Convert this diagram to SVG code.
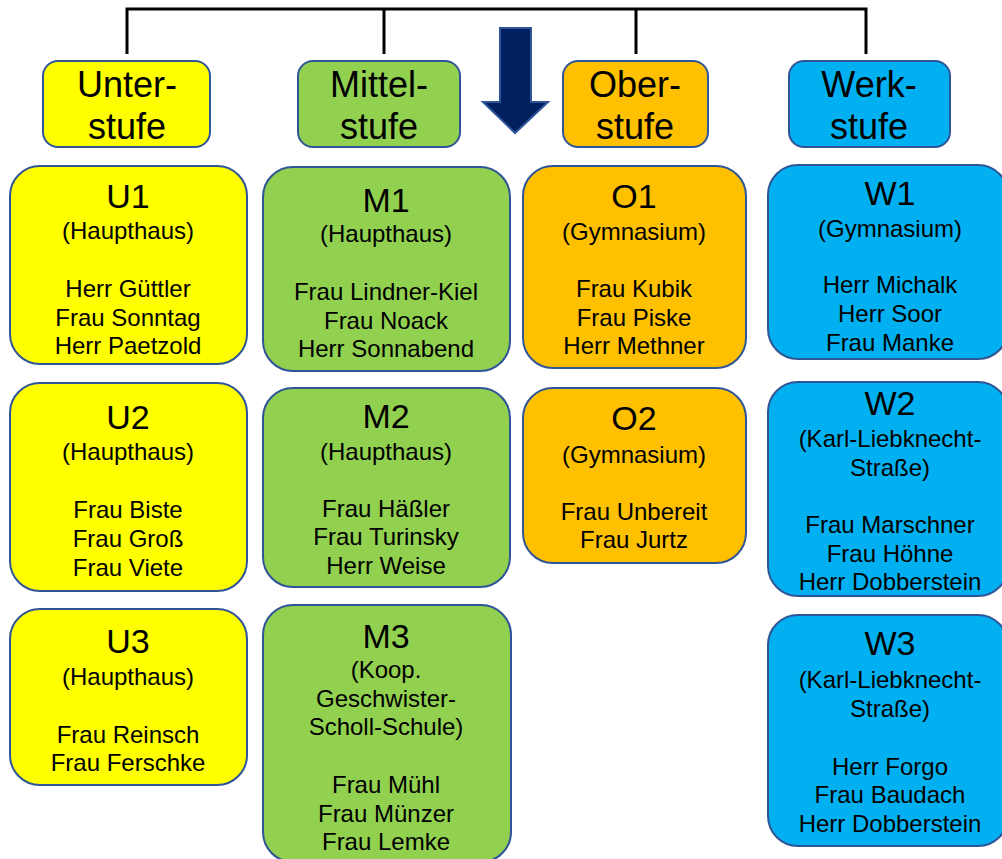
<svg xmlns="http://www.w3.org/2000/svg" width="1002" height="859" viewBox="0 0 1002 859">
<style>
text{font-family:"Liberation Sans",Arial,sans-serif;fill:#000;text-anchor:middle}
.box{stroke:#2F5597;stroke-width:2}
.u{fill:#FFFF00}.m{fill:#92D050}.o{fill:#FFC000}.w{fill:#00B0F0}
.h{font-size:36px}.t{font-size:34px}.s{font-size:24px}
.con{stroke:#000;stroke-width:3;fill:none}
</style>
<g id="connectors">
<path class="con" d="M127 54V9H866V54M384 9V54M636 9V54"/>
<path d="M500 28H531V102H548L515 133L483 102H500Z" fill="#002060" stroke="#2F5597" stroke-width="2"/>
</g>
<g id="hdr-unter"><rect class="box u" x="43" y="61" width="167" height="86" rx="15"/><text class="h" x="127" y="97">Unter-</text><text class="h" x="127" y="139">stufe</text></g>
<g id="hdr-mittel"><rect class="box m" x="298" y="61" width="162" height="86" rx="15"/><text class="h" x="379" y="97">Mittel-</text><text class="h" x="379" y="139">stufe</text></g>
<g id="hdr-ober"><rect class="box o" x="563" y="61" width="145" height="86" rx="15"/><text class="h" x="635" y="97">Ober-</text><text class="h" x="635" y="139">stufe</text></g>
<g id="hdr-werk"><rect class="box w" x="789" y="61" width="161" height="86" rx="15"/><text class="h" x="869" y="97">Werk-</text><text class="h" x="869" y="139">stufe</text></g>

<g id="U1"><rect class="box u" x="10" y="166" width="237" height="198" rx="30"/>
<text class="t" x="128" y="208">U1</text><text class="s" x="128" y="239">(Haupthaus)</text>
<text class="s" x="128" y="297">Herr Güttler</text><text class="s" x="128" y="326">Frau Sonntag</text><text class="s" x="128" y="354">Herr Paetzold</text></g>
<g id="U2"><rect class="box u" x="10" y="383" width="237" height="208" rx="30"/>
<text class="t" x="128" y="429">U2</text><text class="s" x="128" y="460">(Haupthaus)</text>
<text class="s" x="128" y="518">Frau Biste</text><text class="s" x="128" y="547">Frau Groß</text><text class="s" x="128" y="576">Frau Viete</text></g>
<g id="U3"><rect class="box u" x="10" y="609" width="237" height="176" rx="30"/>
<text class="t" x="128" y="653">U3</text><text class="s" x="128" y="685">(Haupthaus)</text>
<text class="s" x="128" y="743">Frau Reinsch</text><text class="s" x="128" y="771">Frau Ferschke</text></g>

<g id="M1"><rect class="box m" x="263" y="167" width="247" height="204" rx="30"/>
<text class="t" x="386" y="212">M1</text><text class="s" x="386" y="242">(Haupthaus)</text>
<text class="s" x="386" y="300">Frau Lindner-Kiel</text><text class="s" x="386" y="329">Frau Noack</text><text class="s" x="386" y="357">Herr Sonnabend</text></g>
<g id="M2"><rect class="box m" x="263" y="388" width="247" height="199" rx="30"/>
<text class="t" x="386" y="428">M2</text><text class="s" x="386" y="460">(Haupthaus)</text>
<text class="s" x="386" y="517">Frau Häßler</text><text class="s" x="386" y="545">Frau Turinsky</text><text class="s" x="386" y="574">Herr Weise</text></g>
<g id="M3"><rect class="box m" x="263" y="605" width="248" height="257" rx="30"/>
<text class="t" x="386" y="648">M3</text><text class="s" x="386" y="678">(Koop.</text><text class="s" x="386" y="707">Geschwister-</text><text class="s" x="386" y="735">Scholl-Schule)</text>
<text class="s" x="386" y="793">Frau Mühl</text><text class="s" x="386" y="822">Frau Münzer</text><text class="s" x="386" y="850">Frau Lemke</text></g>

<g id="O1"><rect class="box o" x="523" y="166" width="223" height="202" rx="30"/>
<text class="t" x="634" y="208">O1</text><text class="s" x="634" y="240">(Gymnasium)</text>
<text class="s" x="634" y="297">Frau Kubik</text><text class="s" x="634" y="326">Frau Piske</text><text class="s" x="634" y="354">Herr Methner</text></g>
<g id="O2"><rect class="box o" x="523" y="388" width="223" height="175" rx="30"/>
<text class="t" x="634" y="430">O2</text><text class="s" x="634" y="463">(Gymnasium)</text>
<text class="s" x="634" y="520">Frau Unbereit</text><text class="s" x="634" y="548">Frau Jurtz</text></g>

<g id="W1"><rect class="box w" x="768" y="165" width="240" height="194" rx="30"/>
<text class="t" x="890" y="205">W1</text><text class="s" x="890" y="237">(Gymnasium)</text>
<text class="s" x="890" y="293">Herr Michalk</text><text class="s" x="890" y="322">Herr Soor</text><text class="s" x="890" y="351">Frau Manke</text></g>
<g id="W2"><rect class="box w" x="768" y="382" width="240" height="214" rx="30"/>
<text class="t" x="890" y="415">W2</text><text class="s" x="890" y="447">(Karl-Liebknecht-</text><text class="s" x="890" y="476">Straße)</text>
<text class="s" x="890" y="533">Frau Marschner</text><text class="s" x="890" y="562">Frau Höhne</text><text class="s" x="890" y="590">Herr Dobberstein</text></g>
<g id="W3"><rect class="box w" x="768" y="615" width="240" height="231" rx="30"/>
<text class="t" x="890" y="655">W3</text><text class="s" x="890" y="688">(Karl-Liebknecht-</text><text class="s" x="890" y="717">Straße)</text>
<text class="s" x="890" y="775">Herr Forgo</text><text class="s" x="890" y="803">Frau Baudach</text><text class="s" x="890" y="832">Herr Dobberstein</text></g>
</svg>
